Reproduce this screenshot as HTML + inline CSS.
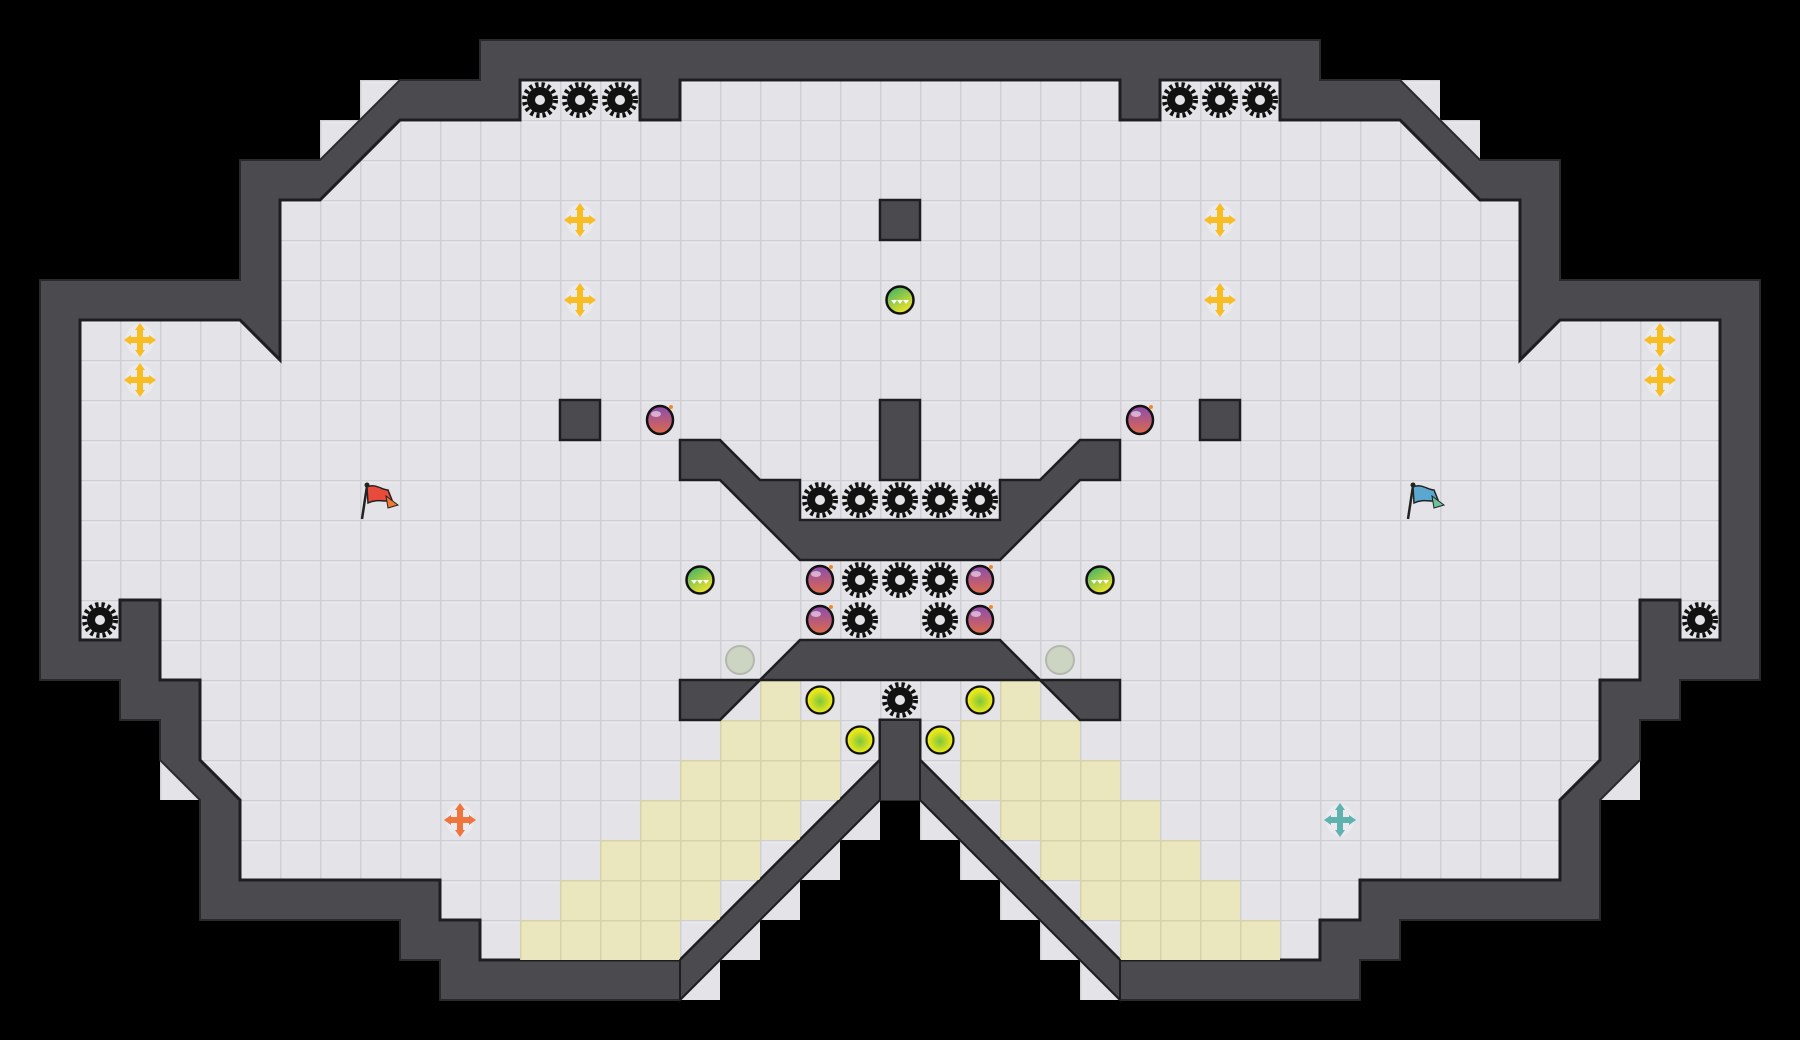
<!DOCTYPE html>
<html><head><meta charset="utf-8"><style>html,body{margin:0;padding:0;background:#000;width:1800px;height:1040px;overflow:hidden}</style></head>
<body>
<svg width="1800" height="1040" viewBox="0 0 1800 1040" xmlns="http://www.w3.org/2000/svg">
<defs>
<pattern id="g" x="0" y="0" width="40" height="40" patternUnits="userSpaceOnUse">
<rect width="40" height="40" fill="#e3e3e8"/>
<rect x="0" y="0" width="40" height="1.5" fill="#cfcfd5"/>
<rect x="0" y="0" width="1.5" height="40" fill="#cfcfd5"/>
<rect x="1.5" y="1.5" width="38" height="1" fill="#f0f0f3"/>
</pattern>
<pattern id="s" x="0" y="0" width="40" height="40" patternUnits="userSpaceOnUse">
<rect width="40" height="40" fill="#eae7bf"/>
<rect x="0" y="0" width="40" height="1.5" fill="#d6d3a8"/>
<rect x="0" y="0" width="1.5" height="40" fill="#d6d3a8"/>
</pattern>
<radialGradient id="coin" cx="50%" cy="55%" r="55%"><stop offset="0" stop-color="#7cc63f"/><stop offset="0.7" stop-color="#e2e51c"/><stop offset="1" stop-color="#f0ee20"/></radialGradient>
<linearGradient id="bomb" x1="0" y1="0" x2="0" y2="1"><stop offset="0" stop-color="#8a4bb0"/><stop offset="1" stop-color="#e06a4a"/></linearGradient>
<linearGradient id="gb" x1="0" y1="0" x2="0.6" y2="1"><stop offset="0" stop-color="#2fae6a"/><stop offset="1" stop-color="#eee22a"/></linearGradient>
<g id="gear">
<circle r="13" fill="#111"/>
<circle r="15.5" fill="none" stroke="#111" stroke-width="5" stroke-dasharray="3.2 3"/>
<circle r="5" fill="#e3e3e8"/>
</g>
<g id="cross">
<ellipse rx="14" ry="16" fill="#ececf0" opacity="0.8"/>
<path d="M-3,-10 h6 v7 h7 v6 h-7 v7 h-6 v-7 h-7 v-6 h7z" fill="currentColor"/>
<path d="M0,-17 l5,7 h-10z M0,17 l5,-7 h-10z M-16,0 l7,5 v-10z M16,0 l-7,5 v-10z" fill="currentColor"/>
</g>
<g id="bomb1">
<ellipse rx="13" ry="14" fill="url(#bomb)" stroke="#111" stroke-width="2.5"/>
<ellipse cx="-4" cy="-6" rx="5" ry="3" fill="#fff" opacity="0.55"/>
<circle cx="11" cy="-13" r="2" fill="#f08a2a"/>
</g>
<g id="gball">
<circle r="13.5" fill="url(#gb)" stroke="#111" stroke-width="2.5"/>
<path d="M-6,0 l3,4 l3,-4z M0,0 l3,4 l3,-4z M6,0 l3,4 l3,-4z" fill="#fff" transform="translate(-3,0)"/>
</g>
<g id="coin1"><circle r="13.5" fill="url(#coin)" stroke="#111" stroke-width="2.2"/></g>
</defs>

<!-- extra light cells outside walls -->
<g fill="url(#g)">
<rect x="360" y="80" width="40" height="40"/><rect x="320" y="120" width="40" height="40"/>
<rect x="160" y="760" width="40" height="40"/><rect x="680" y="960" width="40" height="40"/>
<rect x="720" y="920" width="40" height="40"/><rect x="760" y="880" width="40" height="40"/>
<rect x="800" y="840" width="40" height="40"/><rect x="840" y="800" width="40" height="40"/>
<rect x="1400" y="80" width="40" height="40"/><rect x="1440" y="120" width="40" height="40"/>
<rect x="1600" y="760" width="40" height="40"/><rect x="1080" y="960" width="40" height="40"/>
<rect x="1040" y="920" width="40" height="40"/><rect x="1000" y="880" width="40" height="40"/>
<rect x="960" y="840" width="40" height="40"/><rect x="920" y="800" width="40" height="40"/>
</g>

<!-- outer wall -->
<polygon fill="#4a4a4f" stroke="#2a2a2e" stroke-width="2" points="480,40 1320,40 1320,80 1400,80 1480,160 1560,160 1560,280 1760,280 1760,680 1680,680 1680,720 1640,720 1640,760 1600,800 1600,920 1400,920 1400,960 1360,960 1360,1000 1120,1000 920,800 880,800 680,1000 440,1000 440,960 400,960 400,920 200,920 200,800 160,760 160,720 120,720 120,680 40,680 40,280 240,280 240,160 320,160 400,80 480,80"/>

<!-- floor -->
<polygon fill="url(#g)" stroke="#1e1e22" stroke-width="3" stroke-linejoin="miter" points="400,120 520,120 520,80 640,80 640,120 680,120 680,80 1120,80 1120,120 1160,120 1160,80 1280,80 1280,120 1400,120 1480,200 1520,200 1520,360 1560,320 1720,320 1720,640 1680,640 1680,600 1640,600 1640,680 1600,680 1600,760 1560,800 1560,880 1360,880 1360,920 1320,920 1320,960 1120,960 920,760 920,720 880,720 880,760 680,960 480,960 480,920 440,920 440,880 240,880 240,800 200,760 200,680 160,680 160,600 120,600 120,640 80,640 80,320 240,320 280,360 280,200 320,200"/>

<!-- sand -->
<g fill="url(#s)">
<rect x="760" y="680" width="40" height="40"/>
<rect x="720" y="720" width="120" height="40"/>
<rect x="680" y="760" width="160" height="40"/>
<rect x="640" y="800" width="160" height="40"/>
<rect x="600" y="840" width="160" height="40"/>
<rect x="560" y="880" width="160" height="40"/>
<rect x="520" y="920" width="160" height="40"/>
<rect x="1000" y="680" width="40" height="40"/>
<rect x="960" y="720" width="120" height="40"/>
<rect x="960" y="760" width="160" height="40"/>
<rect x="1000" y="800" width="160" height="40"/>
<rect x="1040" y="840" width="160" height="40"/>
<rect x="1080" y="880" width="160" height="40"/>
<rect x="1120" y="920" width="160" height="40"/>
</g>
<!-- re-draw diagonal wall over sand -->
<polygon fill="#4a4a4f" stroke="#1e1e22" stroke-width="2" points="680,960 880,760 880,800 680,1000"/>
<polygon fill="#4a4a4f" stroke="#1e1e22" stroke-width="2" points="1120,960 920,760 920,800 1120,1000"/>
<rect x="880" y="720" width="40" height="80" fill="#4a4a4f"/>
<path d="M880,800 V720 H920 V800" fill="none" stroke="#1e1e22" stroke-width="2"/>

<!-- obstacles -->
<g fill="#4a4a4f" stroke="#1e1e22" stroke-width="2.5">
<rect x="880" y="200" width="40" height="40"/>
<rect x="560" y="400" width="40" height="40"/>
<rect x="1200" y="400" width="40" height="40"/>
<rect x="880" y="400" width="40" height="80"/>
<polygon points="680,440 720,440 760,480 800,480 800,520 1000,520 1000,480 1040,480 1080,440 1120,440 1120,480 1080,480 1000,560 800,560 720,480 680,480"/>
<polygon points="800,640 1000,640 1040,680 760,680"/>
<polygon points="680,680 760,680 720,720 680,720"/>
<polygon points="1120,680 1040,680 1080,720 1120,720"/>
</g>

<!-- gears -->
<g>
<use href="#gear" x="540" y="100"/><use href="#gear" x="580" y="100"/><use href="#gear" x="620" y="100"/>
<use href="#gear" x="1180" y="100"/><use href="#gear" x="1220" y="100"/><use href="#gear" x="1260" y="100"/>
<use href="#gear" x="100" y="620"/><use href="#gear" x="1700" y="620"/>
<use href="#gear" x="820" y="500"/><use href="#gear" x="860" y="500"/><use href="#gear" x="900" y="500"/><use href="#gear" x="940" y="500"/><use href="#gear" x="980" y="500"/>
<use href="#gear" x="860" y="580"/><use href="#gear" x="900" y="580"/><use href="#gear" x="940" y="580"/>
<use href="#gear" x="860" y="620"/><use href="#gear" x="940" y="620"/>
<use href="#gear" x="900" y="700"/>
</g>

<!-- crosses -->
<g style="color:#f7bd22">
<use href="#cross" x="580" y="220"/><use href="#cross" x="580" y="300"/>
<use href="#cross" x="1220" y="220"/><use href="#cross" x="1220" y="300"/>
<use href="#cross" x="140" y="340"/><use href="#cross" x="140" y="380"/>
<use href="#cross" x="1660" y="340"/><use href="#cross" x="1660" y="380"/>
</g>
<use href="#cross" x="460" y="820" style="color:#f0743e"/>
<use href="#cross" x="1340" y="820" style="color:#5fb2ae"/>

<!-- bombs -->
<use href="#bomb1" x="660" y="420"/><use href="#bomb1" x="1140" y="420"/>
<use href="#bomb1" x="820" y="580"/><use href="#bomb1" x="980" y="580"/>
<use href="#bomb1" x="820" y="620"/><use href="#bomb1" x="980" y="620"/>

<!-- green balls -->
<use href="#gball" x="900" y="300"/><use href="#gball" x="700" y="580"/><use href="#gball" x="1100" y="580"/>

<!-- gray circles -->
<circle cx="740" cy="660" r="14" fill="#ccd4c2" stroke="#b3b8ae" stroke-width="2"/>
<circle cx="1060" cy="660" r="14" fill="#ccd4c2" stroke="#b3b8ae" stroke-width="2"/>

<!-- coins -->
<use href="#coin1" x="820" y="700"/><use href="#coin1" x="980" y="700"/>
<use href="#coin1" x="860" y="740"/><use href="#coin1" x="940" y="740"/>

<!-- flags -->
<g>
<line x1="367" y1="486" x2="362" y2="519" stroke="#222" stroke-width="2.5"/>
<circle cx="367" cy="485" r="2.5" fill="#222"/>
<path d="M367,487 C375,483 382,490 388,490 L392,500 C386,503 378,498 368,503 Z" fill="#e84a3c" stroke="#222" stroke-width="1.5"/>
<path d="M386,496 L398,505 L388,508 Z" fill="#f07a30" stroke="#222" stroke-width="1"/>
</g>
<g>
<line x1="1413" y1="486" x2="1408" y2="519" stroke="#222" stroke-width="2.5"/>
<circle cx="1413" cy="485" r="2.5" fill="#222"/>
<path d="M1413,487 C1421,483 1428,490 1434,490 L1438,500 C1432,503 1424,498 1414,503 Z" fill="#5aa7d0" stroke="#222" stroke-width="1.5"/>
<path d="M1432,496 L1444,505 L1434,508 Z" fill="#6cc39a" stroke="#222" stroke-width="1"/>
</g>
</svg>
</body></html>
